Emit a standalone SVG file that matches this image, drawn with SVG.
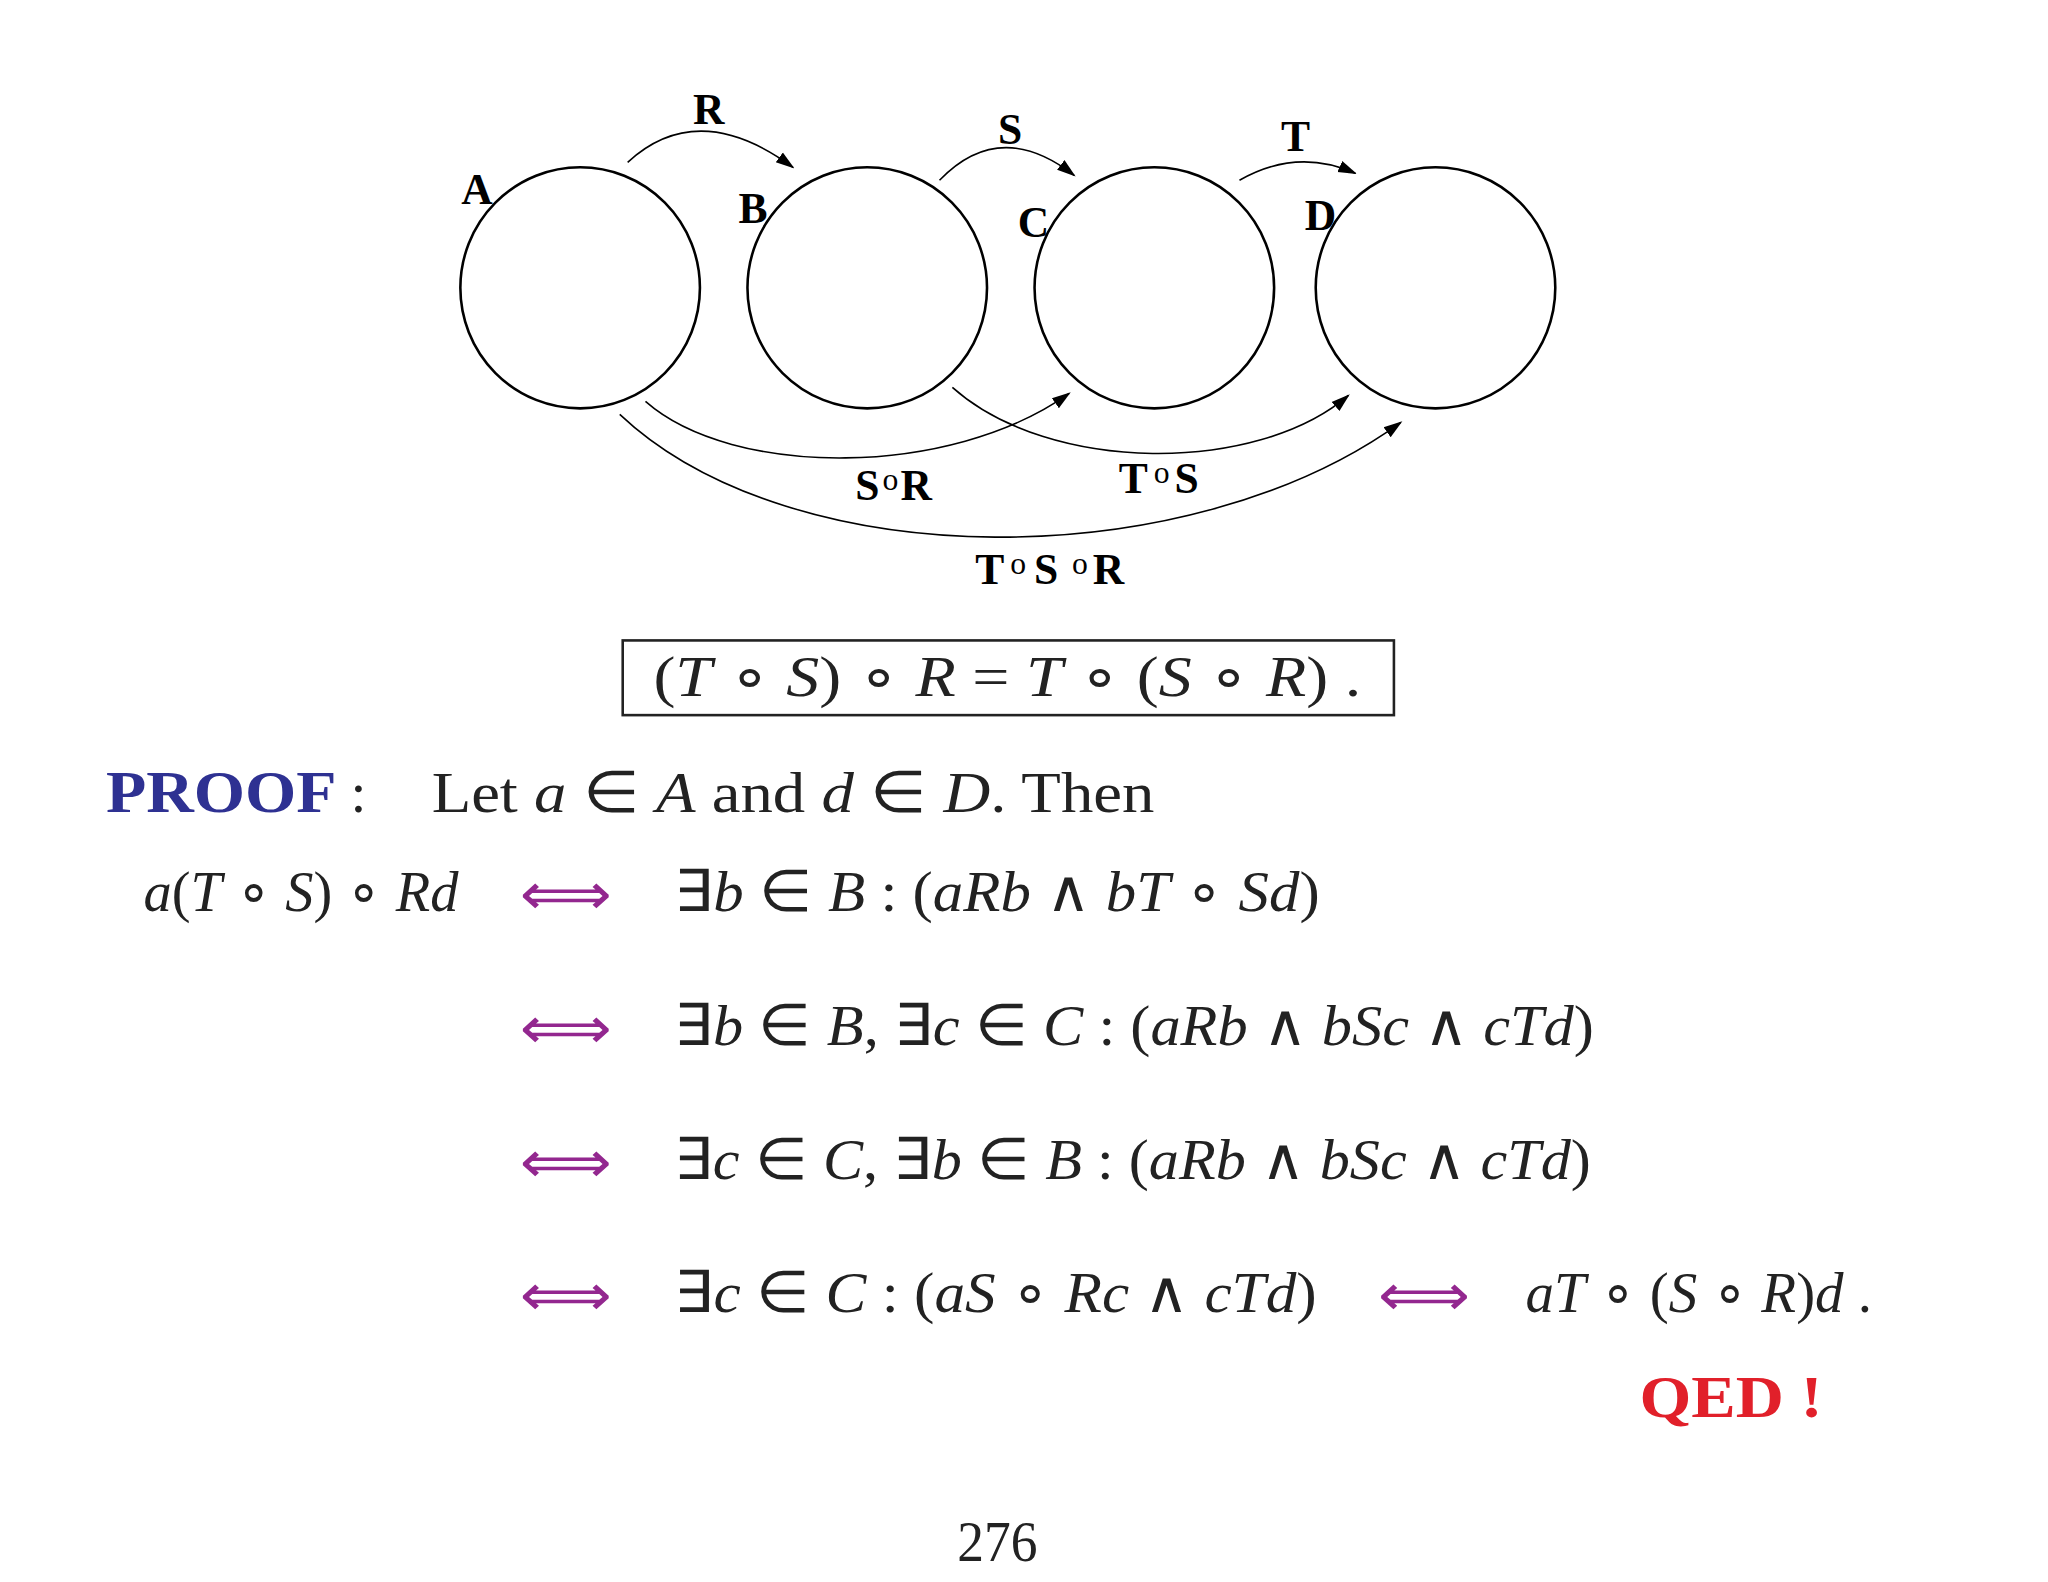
<svg xmlns="http://www.w3.org/2000/svg" width="2048" height="1582" viewBox="0 0 2048 1582">
<style>
.c{fill:none;stroke:#000;stroke-width:2.6}
.e{fill:none;stroke:#000;stroke-width:1.6}
.lb{font-family:"Liberation Serif",serif;font-weight:bold;font-size:44px;fill:#000}
.m{font-family:"Liberation Serif",serif;font-size:58px;fill:#222}
.i{font-style:italic}
.ar{font-family:"DejaVu Sans",sans-serif;font-size:58px;fill:#93278f}
</style>
<defs>
<marker id="h" viewBox="0 0 10 10" refX="9" refY="5" markerWidth="19" markerHeight="19" markerUnits="userSpaceOnUse" orient="auto"><path d="M0,1.8 L10,5 L0,8.2 Z" fill="#000"/></marker>
</defs>
<rect width="2048" height="1582" fill="#fff"/>
<g transform="scale(0.99,0.996)">
<g id="nodeA"><circle class="c" cx="586" cy="289" r="121"/><text class="lb" x="466" y="205">A</text></g>
<g id="nodeB"><circle class="c" cx="876" cy="289" r="121"/><text class="lb" x="746" y="224">B</text></g>
<g id="nodeC"><circle class="c" cx="1166" cy="289" r="121"/><text class="lb" x="1028" y="238">C</text></g>
<g id="nodeD"><circle class="c" cx="1450" cy="289" r="121"/><text class="lb" x="1318" y="231">D</text></g>
<g id="connectors">
<path class="e" marker-end="url(#h)" d="M634,163 Q705,98 801,168"/>
<path class="e" marker-end="url(#h)" d="M949,181 Q1010,118 1085,176"/>
<path class="e" marker-end="url(#h)" d="M1252,181 Q1310,148 1369,174"/>
<path class="e" marker-end="url(#h)" d="M652,403 C740,480 960,480 1080,395"/>
<path class="e" marker-end="url(#h)" d="M962,389 C1060,476 1270,476 1362,397"/>
<path class="e" marker-end="url(#h)" d="M626,416 C800,579 1200,579 1415,424"/>
<text class="lb" x="700" y="125">R</text>
<text class="lb" x="1008" y="145">S</text>
<text class="lb" x="1294" y="152">T</text>
<text class="lb" x="864" y="502">S<tspan font-weight="normal" font-size="32" dy="-10" dx="3">o</tspan><tspan dy="10" dx="2">R</tspan></text>
<text class="lb" x="1130" y="495">T<tspan font-weight="normal" font-size="32" dy="-10" dx="6">o</tspan><tspan dy="10" dx="5">S</tspan></text>
<text class="lb" x="985" y="586">T<tspan font-weight="normal" font-size="32" dy="-10" dx="6">o</tspan><tspan dy="10" dx="8">S</tspan><tspan font-weight="normal" font-size="32" dy="-10" dx="14">o</tspan><tspan dy="10" dx="5">R</tspan></text>
</g>
<rect x="629" y="643" width="779" height="75" fill="none" stroke="#222" stroke-width="2.6"/>
<text class="m" x="660" y="699" textLength="715" lengthAdjust="spacingAndGlyphs"><tspan>(</tspan><tspan class="i">T</tspan> ∘ <tspan class="i">S</tspan>) ∘ <tspan class="i">R</tspan>  =  <tspan class="i">T</tspan> ∘ (<tspan class="i">S</tspan> ∘ <tspan class="i">R</tspan>) .</text>
<text x="107" y="815" font-family="Liberation Serif,serif" font-weight="bold" font-size="60" fill="#2e3192" textLength="233" lengthAdjust="spacingAndGlyphs">PROOF</text>
<text class="m" x="354" y="815">:</text>
<text class="m" x="436" y="815" textLength="730" lengthAdjust="spacingAndGlyphs">Let <tspan class="i">a</tspan> ∈ <tspan class="i">A</tspan> and <tspan class="i">d</tspan> ∈ <tspan class="i">D</tspan>.   Then</text>
<text class="m" x="145" y="915" textLength="318" lengthAdjust="spacingAndGlyphs"><tspan class="i">a</tspan>(<tspan class="i">T</tspan> ∘ <tspan class="i">S</tspan>) ∘ <tspan class="i">Rd</tspan></text>
<text class="ar" x="525" y="918" textLength="93" lengthAdjust="spacingAndGlyphs">⟺</text>
<text class="m" x="681" y="915" textLength="652" lengthAdjust="spacingAndGlyphs">∃<tspan class="i">b</tspan> ∈ <tspan class="i">B</tspan>  :  (<tspan class="i">aRb</tspan>  ∧  <tspan class="i">bT</tspan> ∘ <tspan class="i">Sd</tspan>)</text>
<text class="ar" x="525" y="1052" textLength="93" lengthAdjust="spacingAndGlyphs">⟺</text>
<text class="m" x="681" y="1049" textLength="929" lengthAdjust="spacingAndGlyphs">∃<tspan class="i">b</tspan> ∈ <tspan class="i">B</tspan>, ∃<tspan class="i">c</tspan> ∈ <tspan class="i">C</tspan>  :  (<tspan class="i">aRb</tspan>  ∧  <tspan class="i">bSc</tspan>  ∧  <tspan class="i">cTd</tspan>)</text>
<text class="ar" x="525" y="1187" textLength="93" lengthAdjust="spacingAndGlyphs">⟺</text>
<text class="m" x="681" y="1184" textLength="926" lengthAdjust="spacingAndGlyphs">∃<tspan class="i">c</tspan> ∈ <tspan class="i">C</tspan>, ∃<tspan class="i">b</tspan> ∈ <tspan class="i">B</tspan>  :  (<tspan class="i">aRb</tspan>  ∧  <tspan class="i">bSc</tspan>  ∧  <tspan class="i">cTd</tspan>)</text>
<text class="ar" x="525" y="1320" textLength="93" lengthAdjust="spacingAndGlyphs">⟺</text>
<text class="m" x="681" y="1317" textLength="649" lengthAdjust="spacingAndGlyphs">∃<tspan class="i">c</tspan> ∈ <tspan class="i">C</tspan>  :  (<tspan class="i">aS</tspan> ∘ <tspan class="i">Rc</tspan>  ∧  <tspan class="i">cTd</tspan>)</text>
<text class="ar" x="1392" y="1320" textLength="93" lengthAdjust="spacingAndGlyphs">⟺</text>
<text class="m" x="1541" y="1317" textLength="350" lengthAdjust="spacingAndGlyphs"><tspan class="i">aT</tspan> ∘ (<tspan class="i">S</tspan> ∘ <tspan class="i">R</tspan>)<tspan class="i">d</tspan> .</text>
<text x="1656" y="1423" font-family="Liberation Serif,serif" font-weight="bold" font-size="60" fill="#e1202a" textLength="185" lengthAdjust="spacingAndGlyphs">QED  !</text>
<text class="m" x="967" y="1567" textLength="81" lengthAdjust="spacingAndGlyphs">276</text>
</g>
</svg>
